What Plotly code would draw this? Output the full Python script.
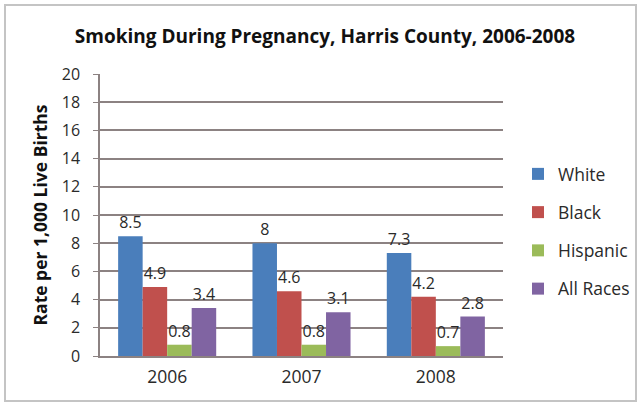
import plotly.graph_objects as go

years = ["2006", "2007", "2008"]
series_names = ["White", "Black", "Hispanic", "All Races"]
white = [8.5, 8, 7.3]
black = [4.9, 4.6, 4.2]
hispanic = [0.8, 0.8, 0.7]
all_races = [3.4, 3.1, 2.8]
colors = ["#4A7EBB", "#C0504D", "#9BBB59", "#8064A2"]
y_ticks = [0, 2, 4, 6, 8, 10, 12, 14, 16, 18, 20]

fig = go.Figure()
for name, vals, c in zip(series_names, [white, black, hispanic, all_races], colors):
    fig.add_trace(go.Bar(
        x=years, y=vals, name=name, marker_color=c, marker_line_width=0,
        text=[f"{v:g}" for v in vals], textposition="outside", cliponaxis=False,
        textfont=dict(size=16, color="#2a2a2a", family="Open Sans"),
        legendgroup=name,
    ))

L, R, T, B = 100, 139, 74, 51
W, H = 642, 407
pw, ph = W - L - R, H - T - B

fig.update_layout(
    width=W, height=H,
    margin=dict(l=L, r=R, t=T, b=B, autoexpand=False),
    paper_bgcolor="white", plot_bgcolor="white",
    barmode="group", bargap=0.27, bargroupgap=0,
    title=dict(text="<b>Smoking During Pregnancy, Harris County, 2006-2008</b>",
               x=325 / W, xanchor="center", y=1 - 36 / H, yanchor="middle",
               font=dict(size=19, family="Open Sans", color="#111111")),
    font=dict(family="Open Sans", color="#2a2a2a"),
    legend=dict(x=(518 - L) / pw, xanchor="left", y=1 - (156 - T) / ph, yanchor="top",
                font=dict(size=17.5, family="Open Sans", color="#2a2a2a"),
                tracegroupgap=12.5, itemwidth=30),
    showlegend=True,
)
fig.update_xaxes(showgrid=False, showline=True, linecolor="#8c8282", linewidth=1.5,
                 ticks="", tickfont=dict(size=17.5, color="#2a2a2a"), automargin=False,
                 ticklabelstandoff=4)
fig.update_yaxes(range=[0, 20], tickvals=y_ticks, showgrid=True, gridcolor="#8c8282",
                 gridwidth=1.5, showline=True, linecolor="#8c8282", linewidth=1.5,
                 ticks="outside", ticklen=5, tickcolor="#8c8282", zeroline=False,
                 tickfont=dict(size=16, color="#2a2a2a"), automargin=False,
                 ticklabelstandoff=10,
                 title=dict(text="<b>Rate per 1,000 Live Births</b>",
                            font=dict(size=17.5, color="#111111"), standoff=10))
fig.add_shape(type="rect", xref="paper", yref="paper",
              x0=(5 - L) / pw, x1=(636 - L) / pw, y0=1 - (401 - T) / ph, y1=1 - (5 - T) / ph,
              line=dict(color="#c4c4c4", width=2), fillcolor="rgba(0,0,0,0)", layer="below")
fig.write_html("out.html", post_script="document.body.style.margin='0';",
               config={"displayModeBar": False})
